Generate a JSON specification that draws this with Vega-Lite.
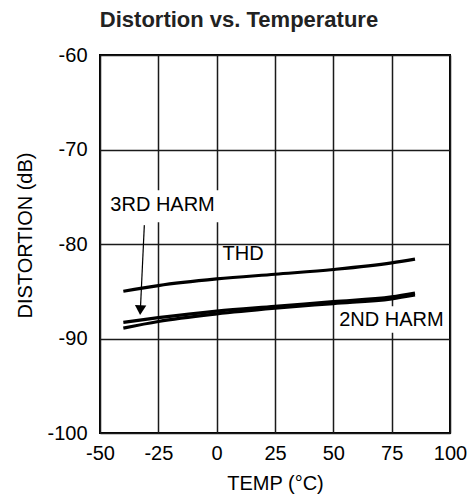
{
  "$schema": "https://vega.github.io/schema/vega-lite/v6.json",
  "width": 350,
  "height": 378,
  "autosize": {"type": "none"},
  "padding": {"left": 100, "top": 55, "right": 25, "bottom": 69},
  "background": "white",
  "config": {
    "font": "Liberation Sans",
    "view": {"stroke": "#000000", "strokeWidth": 2},
    "axis": {
      "grid": true,
      "gridColor": "#1a1a1a",
      "gridWidth": 1.5,
      "gridOpacity": 1,
      "domain": false,
      "ticks": false,
      "labelFlush": false,
      "labelFont": "Liberation Sans",
      "labelFontSize": 20,
      "labelColor": "#000000",
      "labelExpr": "replace(datum.label, '−', '-')",
      "titleFont": "Liberation Sans",
      "titleFontSize": 20,
      "titleFontWeight": "normal",
      "titleColor": "#000000"
    }
  },
  "title": {
    "text": "Distortion vs. Temperature",
    "font": "Liberation Sans",
    "fontSize": 22,
    "fontWeight": "bold",
    "color": "#222222",
    "anchor": "middle",
    "frame": "group",
    "baseline": "alphabetic",
    "offset": 10,
    "dx": -36,
    "dy": 14
  },
  "datasets": {
    "curves": [
      {"series": "THD", "temp": -40, "dist": -85.0},
      {"series": "THD", "temp": -25, "dist": -84.4},
      {"series": "THD", "temp": 0, "dist": -83.7},
      {"series": "THD", "temp": 25, "dist": -83.2},
      {"series": "THD", "temp": 50, "dist": -82.7},
      {"series": "THD", "temp": 75, "dist": -82.0},
      {"series": "THD", "temp": 85, "dist": -81.6},
      {"series": "2ND HARM", "temp": -40, "dist": -88.9},
      {"series": "2ND HARM", "temp": -25, "dist": -88.2},
      {"series": "2ND HARM", "temp": 0, "dist": -87.4},
      {"series": "2ND HARM", "temp": 25, "dist": -86.8},
      {"series": "2ND HARM", "temp": 50, "dist": -86.3},
      {"series": "2ND HARM", "temp": 75, "dist": -85.8},
      {"series": "2ND HARM", "temp": 85, "dist": -85.4},
      {"series": "3RD HARM", "temp": -40, "dist": -88.3},
      {"series": "3RD HARM", "temp": -25, "dist": -87.8},
      {"series": "3RD HARM", "temp": 0, "dist": -87.1},
      {"series": "3RD HARM", "temp": 25, "dist": -86.6},
      {"series": "3RD HARM", "temp": 50, "dist": -86.1},
      {"series": "3RD HARM", "temp": 75, "dist": -85.6},
      {"series": "3RD HARM", "temp": 85, "dist": -85.2}
    ],
    "labels": [
      {"label": "3RD HARM", "temp": -23.2, "dist": -75.9, "x1": -47, "x2": 1, "y1": -74.3, "y2": -77.7},
      {"label": "THD", "temp": 11.3, "dist": -81.1, "x1": 5, "x2": 5, "y1": -81, "y2": -81},
      {"label": "2ND HARM", "temp": 74.9, "dist": -88.0, "x1": 51, "x2": 99, "y1": -86.6, "y2": -89.4}
    ],
    "arrow": [
      {"temp": -31.0, "dist": -78.0, "temp2": -32.7, "dist2": -87.0}
    ]
  },
  "encoding": {
    "x": {
      "field": "temp",
      "type": "quantitative",
      "scale": {"domain": [-50, 100], "nice": false, "zero": false},
      "axis": {"values": [-50, -25, 0, 25, 50, 75, 100], "title": "TEMP (°C)", "labelPadding": 10, "titlePadding": 10}
    },
    "y": {
      "field": "dist",
      "type": "quantitative",
      "scale": {"domain": [-100, -60], "nice": false, "zero": false},
      "axis": {"values": [-100, -90, -80, -70, -60], "title": "DISTORTION (dB)", "labelPadding": 13, "titleX": -75, "titleY": 180, "titleBaseline": "middle", "titleAngle": -90}
    }
  },
  "layer": [
    {
      "data": {"name": "labels"},
      "mark": {"type": "rect", "color": "white"},
      "encoding": {
        "x": {"field": "x1", "type": "quantitative"},
        "x2": {"field": "x2"},
        "y": {"field": "y1", "type": "quantitative"},
        "y2": {"field": "y2"}
      }
    },
    {
      "data": {"name": "curves"},
      "mark": {"type": "line", "color": "#000000", "strokeWidth": 3.2, "interpolate": "monotone"},
      "encoding": {"detail": {"field": "series"}}
    },
    {
      "data": {"name": "labels"},
      "mark": {"type": "text", "font": "Liberation Sans", "fontSize": 20, "color": "#000000", "baseline": "middle", "align": "center"},
      "encoding": {"text": {"field": "label"}}
    },
    {
      "data": {"name": "arrow"},
      "mark": {"type": "rule", "color": "#000000", "strokeWidth": 1.2},
      "encoding": {
        "x2": {"field": "temp2"},
        "y2": {"field": "dist2"}
      }
    },
    {
      "data": {"name": "arrow"},
      "mark": {"type": "point", "shape": "triangle-down", "filled": true, "color": "#000000", "size": 130, "opacity": 1, "angle": 3},
      "encoding": {
        "x": {"field": "temp2", "type": "quantitative"},
        "y": {"field": "dist2", "type": "quantitative"}
      }
    }
  ]
}
